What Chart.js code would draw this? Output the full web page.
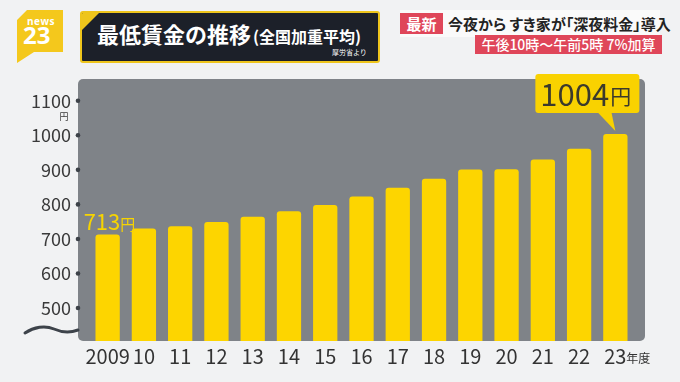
<!DOCTYPE html>
<html>
<head>
<meta charset="utf-8">
<script src="https://cdn.jsdelivr.net/npm/chart.js@4"></script>
<style>
  body { margin: 0; width: 680px; height: 382px; overflow: hidden; background: #f1f2f3;
         font-family: "Noto Sans CJK JP", "Noto Sans", sans-serif; position: relative; }
  #c { position: absolute; left: 0; top: 0; }
  .abs { position: absolute; white-space: nowrap; }
  #logo { left: 17px; top: 10px; width: 46px; height: 53px; background: #f4c81c;
          clip-path: polygon(10px 0, 46px 0, 46px 42px, 17px 42px, 0 53px, 0 10px); }
  #titlebox { left: 80px; top: 11px; width: 300px; height: 52px; box-sizing: border-box;
              background: #1c2029; border: 2px solid #eec51c; border-radius: 3px; overflow: hidden; }
  #corner { left: 0; top: 0; width: 17px; height: 17px; background: #eec51c;
            clip-path: polygon(0 0, 100% 0, 0 100%); }
  .red { background: #df4659; color: #fff; font-weight: bold; }
  .palt { font-feature-settings: "palt" 1; }
</style>
</head>
<body>
<div class="abs" id="logo">
  <div class="abs" style="left:10px;top:4px;font:bold 10px 'Open Sans';color:#fff;letter-spacing:0.5px">news</div>
  <div class="abs" style="left:6px;top:11px;font:bold 24px 'Open Sans';color:#fff;line-height:28px">23</div>
</div>
<div class="abs" id="titlebox">
  <div class="abs" id="corner"></div>
  <div class="abs" style="left:15px;top:5px;color:#fff;font-weight:bold;font-size:22px;line-height:30px">最低賃金の推移<span style="font-size:16px;margin-left:2px">(全国加重平均)</span></div>
  <div class="abs" style="left:250px;top:35px;color:#fff;font-size:7px;line-height:9px">厚労省より</div>
</div>
<div class="abs" style="left:400px;top:10px;width:260px;height:27px;background:#fafafa"></div>
<div class="abs red" style="left:400px;top:13px;width:43px;height:21px;font-size:15px;line-height:21px;text-align:center">最新</div>
<div class="abs palt" style="left:448px;top:13px;font-size:15px;line-height:21px;font-weight:bold;color:#222">今夜から すき家が「深夜料金」導入</div>
<div class="abs red palt" style="left:475px;top:35px;width:187px;height:19px;font-size:14px;line-height:19px;text-align:center;font-weight:500">午後10時～午前5時 7%加算</div>
<canvas id="c" width="680" height="382"></canvas>
<script>
const years = ['2009', '10', '11', '12', '13', '14', '15', '16', '17', '18', '19', '20', '21', '22', '23'];
const wages = [713, 730, 737, 749, 764, 780, 798, 823, 848, 874, 901, 902, 930, 961, 1004];
const yTicks = [500, 600, 700, 800, 900, 1000, 1100];

const font = '"Noto Sans CJK JP", "Noto Sans", sans-serif';

// gray panel, tick dots, wave, labels
const decor = {
  id: 'decor',
  beforeDatasetsDraw(chart) {
    const ctx = chart.ctx, a = chart.chartArea;
    ctx.save();
    ctx.fillStyle = '#7f8388';
    ctx.beginPath();
    ctx.roundRect(a.left - 11.5, a.top, a.right - a.left + 23, a.bottom - a.top, 5);
    ctx.fill();
    ctx.restore();
  },
  afterDraw(chart) {
    const ctx = chart.ctx, a = chart.chartArea, y = chart.scales.y, x = chart.scales.x;
    ctx.save();
    // dots on the axis
    ctx.fillStyle = '#3d4248';
    yTicks.forEach(v => {
      ctx.beginPath();
      ctx.arc(a.left - 11.5, y.getPixelForValue(v), 2.3, 0, Math.PI * 2);
      ctx.fill();
    });
    // yen unit under 1100
    ctx.fillStyle = '#3a3a3a';
    ctx.font = '9px ' + font;
    ctx.textAlign = 'center';
    ctx.textBaseline = 'middle';
    ctx.fillText('円', 64, y.getPixelForValue(1100) + 16);
    // axis break wave
    ctx.strokeStyle = '#3d434a';
    ctx.lineWidth = 3;
    ctx.lineCap = 'round';
    ctx.beginPath();
    ctx.moveTo(25, 333);
    ctx.bezierCurveTo(34, 327, 45, 325, 54, 329);
    ctx.bezierCurveTo(63, 333, 70, 333, 78, 330);
    ctx.stroke();
    // 年度
    ctx.fillStyle = '#333';
    ctx.textAlign = 'left';
    ctx.textBaseline = 'alphabetic';
    ctx.font = '12px ' + font;
    ctx.fillText('年度', x.getPixelForValue(years.length - 1) + 11, 363);

    const bars = chart.getDatasetMeta(0).data;
    // first value
    const b0 = bars[0];
    ctx.fillStyle = '#f7d400';
    ctx.font = '22px ' + font;
    ctx.fillText(String(wages[0]), b0.x - 24, b0.y - 4);
    const w0 = ctx.measureText(String(wages[0])).width;
    ctx.font = '15px ' + font;
    ctx.fillText('円', b0.x - 24 + w0, b0.y - 4);

    // last value callout
    const bl = bars[bars.length - 1];
    const bx = bl.x - 80, by = bl.y - 60, bw = 104, bh = 39;
    ctx.fillStyle = '#f9d200';
    ctx.beginPath();
    ctx.roundRect(bx, by, bw, bh, 3);
    ctx.fill();
    ctx.beginPath();
    ctx.moveTo(bl.x - 18, by + bh - 1);
    ctx.lineTo(bl.x - 4, by + bh - 1);
    ctx.lineTo(bl.x, bl.y - 3);
    ctx.closePath();
    ctx.fill();
    ctx.fillStyle = '#3b3a2c';
    ctx.font = '31px ' + font;
    ctx.textBaseline = 'middle';
    const t = String(wages[wages.length - 1]);
    ctx.fillText(t, bx + 5, by + bh / 2 + 1);
    const tw = ctx.measureText(t).width;
    ctx.font = '21px ' + font;
    ctx.fillText('円', bx + 6 + tw, by + bh / 2 + 3);
    ctx.restore();
  }
};

new Chart(document.getElementById('c'), {
  type: 'bar',
  data: {
    labels: years,
    datasets: [{
      data: wages,
      backgroundColor: '#fdd500',
      borderRadius: 3,
      barPercentage: 0.67,
      categoryPercentage: 1
    }]
  },
  options: {
    responsive: false,
    animation: false,
    layout: { padding: { left: 0, top: 79, right: 46.5, bottom: 0 } },
    plugins: { legend: { display: false }, tooltip: { enabled: false } },
    scales: {
      x: {
        afterFit: s => { s.height = 41; },
        grid: { display: false, drawTicks: false },
        border: { display: false },
        ticks: { autoSkip: false, maxRotation: 0, color: '#333', padding: 3,
                 font: { family: font, size: 20 } }
      },
      y: {
        min: 404.5,
        max: 1163,
        afterFit: s => { s.width = 89.5; },
        afterBuildTicks: s => { s.ticks = yTicks.map(v => ({ value: v })); },
        grid: { display: false, drawTicks: false },
        border: { display: false },
        ticks: { color: '#3a3a3a', padding: 18.5, font: { family: font, size: 18 },
                 callback: v => String(v) }
      }
    }
  },
  plugins: [decor]
});
</script>
</body>
</html>
